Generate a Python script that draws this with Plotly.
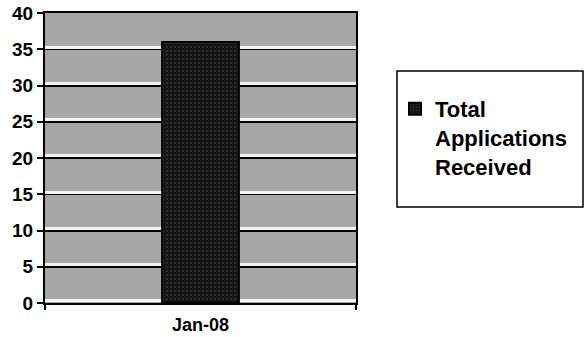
import plotly.graph_objects as go

categories = ["Jan-08"]
values = [36]
series_name = "Total<br>Applications<br>Received"
y_ticks = [0, 5, 10, 15, 20, 25, 30, 35, 40]

fig = go.Figure()
fig.add_trace(go.Bar(
    x=categories, y=values, name=series_name, width=0.247,
    marker=dict(color="#1c1c1c", line=dict(color="black", width=2),
                pattern=dict(shape=".", fgcolor="#555555", bgcolor="#151515", size=4, solidity=0.2)),
    showlegend=True,
))

font_fam = "Liberation Sans, Arial, sans-serif"
L, R, T, B = 45, 356, 13, 303
W, H = 584, 337
pw, ph = R - L, B - T
fig.update_layout(
    width=W, height=H,
    margin=dict(l=L, r=W - R, t=T, b=H - B, autoexpand=False),
    paper_bgcolor="white", plot_bgcolor="#a6a6a6",
    font=dict(family=font_fam, color="black"),
    showlegend=True,
    legend=dict(x=(395 - L) / pw, y=(B - 88) / ph, xanchor="left", yanchor="top", valign="top",
                font=dict(size=22, weight="bold", family=font_fam),
                bgcolor="rgba(0,0,0,0)", borderwidth=0, itemwidth=30),
    xaxis=dict(type="category", tickson="boundaries", ticks="outside", ticklen=5,
               tickcolor="black", tickwidth=1.5, showline=True, linecolor="black",
               linewidth=2, mirror=True, showgrid=False, automargin=False,
               ticklabelstandoff=4,
               tickfont=dict(size=18, weight="bold", family=font_fam), range=[-0.5, 0.5]),
    yaxis=dict(range=[0, 40], tickvals=y_ticks, ticks="outside", ticklen=6,
               tickcolor="black", tickwidth=1.5, showline=True, linecolor="black",
               linewidth=2, mirror=True, showgrid=True, gridcolor="black", gridwidth=2,
               zeroline=False, automargin=False,
               tickfont=dict(size=19, weight="bold", family=font_fam)),
    yaxis2=dict(range=[-0.3, 39.7], tickvals=y_ticks, overlaying="y", showgrid=True,
                gridcolor="#f4f4f4", gridwidth=3, showticklabels=False, zeroline=False,
                showline=False, automargin=False),
    shapes=[dict(type="rect", xref="paper", yref="paper",
                 x0=(397 - L) / pw, x1=(583 - L) / pw,
                 y0=(B - 207) / ph, y1=(B - 71) / ph,
                 line=dict(color="black", width=1.5), fillcolor="rgba(0,0,0,0)")],
)
fig.add_trace(go.Scatter(x=categories, y=[None], yaxis="y2", showlegend=False, hoverinfo="skip"))

fig.write_html("out.html", config={"displayModeBar": False},
               post_script="document.body.style.margin='0';")
